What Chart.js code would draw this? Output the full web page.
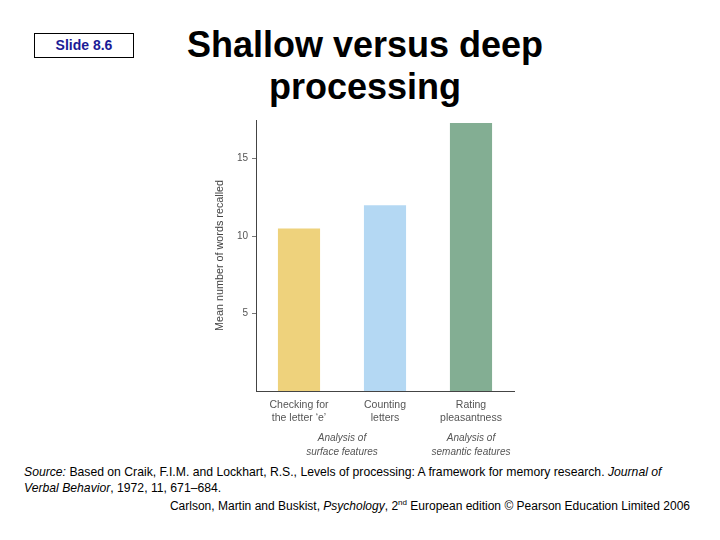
<!DOCTYPE html>
<html>
<head>
<meta charset="utf-8">
<script src="https://cdn.jsdelivr.net/npm/chart.js@4"></script>
<style>
  body{margin:0;width:720px;height:540px;background:#fff;position:relative;font-family:Arial,"Liberation Sans",sans-serif;overflow:hidden}
  #slidebox{position:absolute;left:34px;top:33px;width:98px;height:23px;border:1px solid #000;color:#1b1b96;font-weight:bold;font-size:14px;text-align:center;line-height:23px}
  #title{position:absolute;left:140px;top:24px;width:450px;text-align:center;font-weight:bold;font-size:36px;line-height:42px;color:#000}
  #chartbox{position:absolute;left:200px;top:110px;width:330px;height:350px}
  .foot{position:absolute;font-size:12.2px;color:#000;white-space:nowrap}
</style>
</head>
<body>
<div id="slidebox">Slide 8.6</div>
<div id="title">Shallow versus deep<br>processing</div>
<div id="chartbox"><canvas id="myChart" width="330" height="350"></canvas></div>
<div class="foot" style="left:24px;top:465px"><i>Source:</i> Based on Craik, F.I.M. and Lockhart, R.S., Levels of processing: A framework for memory research. <i>Journal of</i></div>
<div class="foot" style="left:24px;top:481px"><i>Verbal Behavior</i>, 1972, 11, 671–684.</div>
<div class="foot" style="right:30px;top:498px;font-size:12px">Carlson, Martin and Buskist, <i>Psychology</i>, 2<sup style="font-size:8px">nd</sup> European edition © Pearson Education Limited 2006</div>
<script>
const categories=[["Checking for","the letter ‘e’"],["Counting","letters"],["Rating","pleasantness"]];
const wordsRecalled=[10.5,12.0,17.3];
const barColors=["#eed27c","#b4d8f3","#83ae93"];
const yTicks=[5,10,15];
const groupLabels=[["Analysis of","surface features"],["Analysis of","semantic features"]];
const groupSpans=[[0,1],[2,2]];

const groupPlugin={
  id:"groupLabels",
  afterDraw(chart){
    const c=chart.ctx, x=chart.scales.x;
    c.save();
    c.font="italic 10px Arial";
    c.fillStyle="#555";
    c.textAlign="center";
    groupLabels.forEach((lines,i)=>{
      const cx=(x.getPixelForValue(groupSpans[i][0])+x.getPixelForValue(groupSpans[i][1]))/2;
      lines.forEach((t,j)=>c.fillText(t,cx,chart.chartArea.bottom+50+j*13.5));
    });
    c.restore();
  }
};

const ctx=document.getElementById("myChart");
new Chart(ctx,{
  type:"bar",
  data:{
    labels:categories,
    datasets:[{
      data:wordsRecalled,
      backgroundColor:barColors,
      borderWidth:0,
      categoryPercentage:1,
      barPercentage:0.49
    }]
  },
  options:{
    responsive:false,
    animation:false,
    layout:{padding:{top:8,right:16,left:14,bottom:0}},
    plugins:{legend:{display:false},tooltip:{enabled:false}},
    scales:{
      x:{
        grid:{display:false},
        border:{display:true,color:"#444",width:1},
        ticks:{color:"#555",font:{family:"Arial",size:10.5,lineHeight:1.2},padding:0},
        afterFit(s){s.height=69;}
      },
      y:{
        min:0,max:17.5,
        afterBuildTicks(s){s.ticks=yTicks.map(v=>({value:v}));},
        grid:{display:true,drawOnChartArea:false,drawTicks:true,tickLength:4,color:"#777"},
        border:{display:true,color:"#444",width:1},
        ticks:{color:"#555",font:{family:"Arial",size:10},padding:4},
        title:{display:true,text:"Mean number of words recalled",color:"#444",font:{family:"Arial",size:10.8},padding:{top:0,bottom:0}},
        afterFit(s){s.width=42;}
      }
    }
  },
  plugins:[groupPlugin]
});
</script>
</body>
</html>
